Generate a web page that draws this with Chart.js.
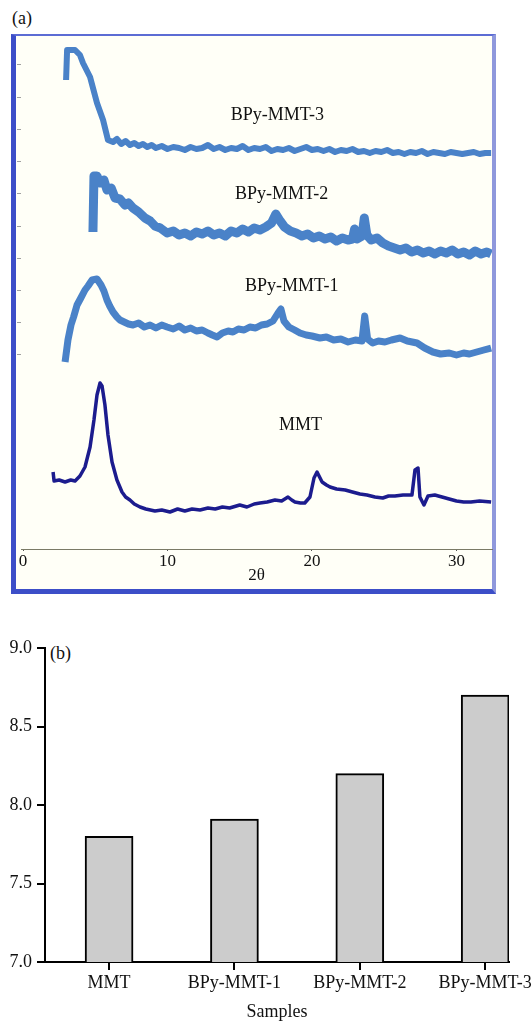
<!DOCTYPE html>
<html lang="en">
<head>
    <meta charset="UTF-8">
    <title>XRD patterns and basal spacing</title>
    <script src="https://cdn.jsdelivr.net/npm/chart.js"></script>
    <style>
        body { margin: 0; background: #fff; width: 531px; height: 1021px; position: relative; overflow: hidden; font-family: "Liberation Serif", serif; }
        .frame { position: absolute; left: 11px; top: 34px; width: 476px; height: 553px; background: #fffff7;
                 border-left: 5px solid #3c4ec8; border-bottom: 5px solid #3c4ec8; border-top: 2px solid #5c6cd4; border-right: 4px solid #8f98dc; }
        .panel { position: absolute; font-size: 18px; color: #111; }
        #xrdChart { position: absolute; left: 0; top: 0; }
        #spacingChart { position: absolute; left: 0; top: 630px; }
    </style>
</head>
<body>
    <div class="frame"></div>
    <div class="panel" style="left:12px; top:8px;">(a)</div>
    <canvas id="xrdChart" width="531" height="600"></canvas>
    <div class="panel" style="left:50px; top:643px;">(b)</div>
    <canvas id="spacingChart" width="531" height="391"></canvas>
    <script>
        // (a) XRD patterns, intensity in arbitrary units (curves are stacked)
        const xTicks = [0, 10, 20, 30];
        const yTickMarks = [485, 452, 420, 388, 356, 323, 291, 259, 227, 195];

        const mmt3X = [2.98, 3.05, 3.6, 3.94, 4.15, 4.64, 5.12, 5.54, 5.88, 6.23, 6.5, 6.8, 7.1, 7.4, 7.7, 8.0, 8.3, 8.6, 8.9, 9.2,
            9.6, 10.0, 10.4, 10.8, 11.2, 11.6, 12.0, 12.4, 12.8, 13.2, 13.6, 14.0, 14.4, 14.8, 15.2, 15.6, 16.0, 16.4, 16.8, 17.2,
            17.6, 18.0, 18.4, 18.8, 19.2, 19.6, 20.0, 20.4, 20.8, 21.2, 21.6, 22.0, 22.4, 22.8, 23.2, 23.6, 24.0, 24.4, 24.8, 25.2,
            25.6, 26.0, 26.4, 26.8, 27.2, 27.6, 28.0, 28.4, 28.8, 29.2, 29.6, 30.0, 30.4, 30.8, 31.2, 31.6, 32.0, 32.4];
        const mmt3Y = [469, 499, 499, 494, 486, 472, 446, 429, 409, 407, 410, 405, 408, 404, 406, 403, 405, 402, 404, 401,
            403, 400, 402, 401, 399, 402, 400, 401, 404, 400, 402, 399, 401, 400, 403, 399, 401, 400, 402, 398,
            400, 399, 401, 398, 400, 402, 399, 400, 398, 400, 397, 399, 398, 400, 397, 398, 396, 398, 397, 399,
            396, 397, 395, 397, 396, 398, 395, 397, 396, 395, 397, 396, 395, 396, 397, 395, 396, 396];

        const mmt2X = [4.84, 4.91, 5.12, 5.33, 5.6, 5.81, 6.1, 6.37, 6.7, 7.06, 7.3, 7.61, 8.0, 8.44, 8.8, 9.13, 9.5, 9.97,
            10.4, 10.8, 11.2, 11.6, 12.0, 12.4, 12.8, 13.2, 13.6, 14.0, 14.4, 14.8, 15.2, 15.6, 16.0, 16.4, 16.8,
            17.2, 17.5, 17.8, 18.1, 18.5, 18.9, 19.3, 19.7, 20.1, 20.5, 20.9, 21.3, 21.7, 22.1, 22.5, 22.8, 22.95, 23.1,
            23.46, 23.62, 23.8, 24.1, 24.5, 24.9, 25.3, 25.7, 26.1, 26.5, 26.9, 27.3, 27.7, 28.1, 28.5, 28.9, 29.3, 29.7,
            30.1, 30.5, 30.9, 31.3, 31.7, 32.1, 32.4];
        const mmt2Y = [317, 373, 373, 366, 369, 359, 361, 351, 350, 344, 346, 341, 337, 331, 328, 323, 321, 316,
            318, 314, 316, 313, 317, 315, 318, 314, 316, 313, 318, 316, 320, 317, 321, 319, 322,
            326, 335, 328, 322, 318, 316, 313, 315, 311, 313, 310, 312, 308, 311, 309, 310, 320, 310,
            313, 331, 314, 309, 311, 306, 303, 301, 299, 301, 297, 299, 296, 298, 295, 298, 296, 299,
            295, 297, 294, 298, 295, 297, 295];

        const mmt1X = [2.91, 3.11, 3.32, 3.5, 3.74, 4.0, 4.29, 4.5, 4.78, 5.12, 5.4, 5.6, 5.81, 6.0, 6.23, 6.5, 6.71, 7.0, 7.3,
            7.61, 8.0, 8.4, 8.79, 9.2, 9.6, 9.97, 10.4, 10.8, 11.2, 11.6, 12.0, 12.4, 12.8, 13.1, 13.43, 13.8, 14.2, 14.53,
            14.9, 15.3, 15.7, 16.1, 16.5, 16.9, 17.3, 17.65, 17.85, 18.06, 18.4, 18.8, 19.17, 19.6, 20.0, 20.55, 21.0, 21.5,
            22.0, 22.5, 23.0, 23.46, 23.65, 23.85, 24.2, 24.6, 25.05, 25.5, 26.1, 26.6, 27.27, 27.8, 28.37, 28.9, 29.5, 30.0,
            30.5, 30.9, 31.4, 31.9, 32.4];
        const mmt1Y = [187, 209, 224, 232, 244, 251, 259, 263, 269, 270, 264, 258, 249, 243, 237, 232, 229, 227, 225,
            224, 226, 222, 224, 221, 224, 222, 220, 223, 219, 221, 218, 219, 216, 214, 212, 216, 218, 217,
            220, 219, 222, 221, 224, 225, 228, 236, 240, 228, 222, 219, 216, 214, 213, 211, 212, 209,
            210, 207, 209, 208, 233, 210, 206, 208, 207, 209, 211, 208, 206, 201, 197, 195, 196, 194,
            196, 195, 197, 199, 201];

        const mmtX = [2.08, 2.15, 2.5, 2.91, 3.3, 3.6, 3.94, 4.29, 4.64, 4.91, 5.12, 5.33, 5.47, 5.67, 5.88, 6.16, 6.5, 6.85,
            7.1, 7.4, 7.7, 8.1, 8.5, 9.13, 9.6, 10.17, 10.7, 11.2, 11.7, 12.25, 12.8, 13.3, 13.8, 14.3, 15.0, 15.5, 16.0,
            16.4, 16.9, 17.44, 17.9, 18.34, 18.6, 18.82, 19.2, 19.5, 19.86, 20.14, 20.35, 20.7, 21.0, 21.25, 21.7, 22.3,
            22.8, 23.32, 23.8, 24.36, 24.9, 25.3, 25.74, 26.3, 26.92, 27.13, 27.34, 27.47, 27.75, 28.03, 28.5, 29.0, 29.5,
            30.0, 30.5, 31.0, 31.6, 32.4];
        const mmtY = [77, 68, 69, 67, 69, 68, 73, 82, 102, 129, 154, 166, 163, 144, 114, 87, 69, 57,
            52, 49, 45, 42, 40, 38, 39, 37, 40, 38, 40, 39, 41, 40, 42, 41, 44, 42, 45,
            46, 47, 49, 48, 52, 49, 47, 46, 46, 52, 71, 77, 67, 64, 62, 60, 59,
            57, 55, 54, 52, 51, 53, 53, 54, 54, 79, 81, 52, 44, 53, 54, 52, 50,
            48, 47, 47, 48, 47];

        const curveNames = ['BPy-MMT-3', 'BPy-MMT-2', 'BPy-MMT-1', 'MMT'];
        const curveNameX = [17.6, 17.9, 18.6, 19.2];
        const curveNameY = [434, 355, 263, 124];

        // (b) basal spacing per sample
        const samples = ['MMT', 'BPy-MMT-1', 'BPy-MMT-2', 'BPy-MMT-3'];
        const spacing = [7.8, 7.91, 8.2, 8.7];

        const serif = '"Liberation Serif", "Times New Roman", serif';
        const pts = (xs, ys) => xs.map((x, i) => ({ x: x, y: ys[i] }));

        const curveNamesPlugin = {
            id: 'curveNames',
            afterDatasetsDraw(chart) {
                const { ctx, scales: { x, y } } = chart;
                ctx.save();
                ctx.font = '18px ' + serif;
                ctx.fillStyle = '#111';
                ctx.textAlign = 'center';
                ctx.textBaseline = 'middle';
                curveNames.forEach((name, i) => {
                    ctx.fillText(name, x.getPixelForValue(curveNameX[i]), y.getPixelForValue(curveNameY[i]));
                });
                ctx.restore();
            }
        };

        const lineSet = (label, data, color, width) => ({
            label: label, data: data, borderColor: color, borderWidth: width,
            pointRadius: 0, tension: 0, fill: false, borderJoinStyle: 'round', borderCapStyle: 'butt'
        });

        new Chart(document.getElementById('xrdChart'), {
            type: 'line',
            data: {
                datasets: [
                    lineSet('BPy-MMT-3', pts(mmt3X, mmt3Y), '#4a82c8', 6),
                    lineSet('BPy-MMT-2', pts(mmt2X, mmt2Y), '#4a82c8', 9),
                    lineSet('BPy-MMT-1', pts(mmt1X, mmt1Y), '#4a82c8', 7),
                    lineSet('MMT', pts(mmtX, mmtY), '#1c1c8e', 3.5)
                ]
            },
            options: {
                responsive: false,
                animation: false,
                layout: { padding: { left: 16, top: 38, right: 39, bottom: 0 } },
                plugins: { legend: { display: false }, tooltip: { enabled: false } },
                scales: {
                    x: {
                        type: 'linear', min: -0.14, max: 32.46,
                        afterBuildTicks: s => { s.ticks = xTicks.map(v => ({ value: v })); },
                        afterFit: s => { s.height = 51; s.paddingLeft = 0; s.paddingRight = 0; },
                        border: { color: '#7a7a66', width: 1 },
                        grid: { drawOnChartArea: false, drawTicks: true, tickLength: 2, color: '#555' },
                        ticks: { padding: 0, maxRotation: 0, autoSkip: false, color: '#111', font: { family: serif, size: 17 } },
                        title: { display: true, text: '2θ', color: '#111', padding: { top: 0, bottom: 14 }, font: { family: serif, size: 17 } }
                    },
                    y: {
                        min: 0, max: 511,
                        afterBuildTicks: s => { s.ticks = yTickMarks.map(v => ({ value: v })); },
                        afterFit: s => { s.width = 5; },
                        border: { display: false },
                        grid: { drawOnChartArea: false, drawTicks: true, tickLength: 4, color: '#a0a0a0' },
                        ticks: { display: false }
                    }
                }
            },
            plugins: [curveNamesPlugin]
        });

        new Chart(document.getElementById('spacingChart'), {
            type: 'bar',
            data: {
                datasets: [{
                    label: 'd-spacing',
                    data: samples.map((s, i) => ({ x: i + 1, y: spacing[i] })),
                    backgroundColor: '#cccccc',
                    borderColor: '#000',
                    borderWidth: 2,
                    barThickness: 48
                }]
            },
            options: {
                responsive: false,
                animation: false,
                layout: { padding: { left: 0, top: 18, right: 22, bottom: 0 } },
                plugins: { legend: { display: false }, tooltip: { enabled: false } },
                scales: {
                    x: {
                        type: 'linear', min: 0.489, max: 4.19, offset: false,
                        afterBuildTicks: s => { s.ticks = samples.map((n, i) => ({ value: i + 1 })); },
                        afterFit: s => { s.height = 59; s.paddingLeft = 0; s.paddingRight = 0; },
                        border: { color: '#000', width: 2 },
                        grid: { offset: false, drawOnChartArea: false, drawTicks: true, tickLength: 8, color: '#000', lineWidth: 2 },
                        ticks: {
                            padding: 2, maxRotation: 0, autoSkip: false, color: '#111',
                            font: { family: serif, size: 18 },
                            callback: v => samples[Math.round(v) - 1]
                        },
                        title: { display: true, text: 'Samples', color: '#111', padding: 0, font: { family: serif, size: 18, lineHeight: 1 } }
                    },
                    y: {
                        min: 7, max: 9,
                        afterFit: s => { s.width = 45; },
                        border: { color: '#000', width: 2 },
                        grid: { drawOnChartArea: false, drawTicks: true, tickLength: 8, color: '#000', lineWidth: 2 },
                        ticks: {
                            stepSize: 0.5, padding: 5, color: '#111',
                            font: { family: serif, size: 18 },
                            callback: v => v.toFixed(1)
                        }
                    }
                }
            }
        });
    </script>
</body>
</html>
